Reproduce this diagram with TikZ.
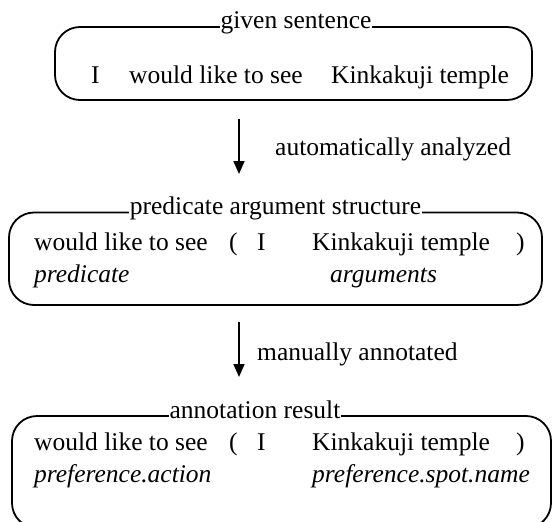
\documentclass[tikz,border=0pt]{standalone}
\usepackage{fontspec}
\setmainfont{Liberation Serif}
\usetikzlibrary{arrows.meta}
\begin{document}
\begin{tikzpicture}[x=1pt,y=-1pt,
  every node/.style={font=\fontsize{25.5}{30}\selectfont},
  framebox/.style={draw,line width=1.8pt,rounded corners=25pt,inner sep=0pt,outer sep=0pt},
  boxtitle/.style={fill=white,anchor=base,inner xsep=0.6pt,inner ysep=1pt},
  txt/.style={anchor=base west,inner sep=0pt},
  itxt/.style={anchor=base west,inner sep=0pt,font=\fontsize{25.5}{30}\selectfont\itshape},
  flow/.style={line width=1.6pt,-{Triangle[length=13pt,width=11pt]}}]
\useasboundingbox (0,0) rectangle (552,522);
\clip (0,0) rectangle (552,522);
\fill[white] (0,0) rectangle (552,522);
% box 1
\node[framebox,minimum width=477pt,minimum height=73pt] (b1) at (293.5,63.5) {};
\node[boxtitle] (t1) at (296,28) {given sentence};
\node[txt] (s1) at (91,83) {I};
\node[txt] (s2) at (129,83) {would like to see};
\node[txt] (s3) at (331,83) {Kinkakuji temple};
% arrow 1
\coordinate (a1s) at (239,119);
\coordinate (a1e) at (239,174);
\draw[flow] (a1s) -- (a1e);
\node[txt] (l1) at (275,155) {automatically analyzed};
% box 2
\node[framebox,minimum width=533pt,minimum height=92.5pt] (b2) at (275.5,258.75) {};
\node[boxtitle] (t2) at (275.5,214) {predicate argument structure};
\node[txt] (p1) at (34,250) {would like to see};
\node[txt] (p2) at (229,250) {(};
\node[txt] (p3) at (257,250) {I};
\node[txt] (p4) at (312,250) {Kinkakuji temple};
\node[txt] (p5) at (516,250) {)};
\node[itxt] (p6) at (34,282) {predicate};
\node[itxt] (p7) at (330,282) {arguments};
% arrow 2
\coordinate (a2s) at (239,322);
\coordinate (a2e) at (239,377);
\draw[flow] (a2s) -- (a2e);
\node[txt] (l2) at (257,360) {manually annotated};
% box 3
\node[framebox,minimum width=539pt,minimum height=112pt] (b3) at (281.5,472) {};
\node[boxtitle] (t3) at (255,418) {annotation result};
\node[txt] (r1) at (34,450) {would like to see};
\node[txt] (r2) at (229,450) {(};
\node[txt] (r3) at (257,450) {I};
\node[txt] (r4) at (312,450) {Kinkakuji temple};
\node[txt] (r5) at (516,450) {)};
\node[itxt] (r6) at (34,482) {preference.action};
\node[itxt] (r7) at (312,482) {preference.spot.name};
\end{tikzpicture}
\end{document}
